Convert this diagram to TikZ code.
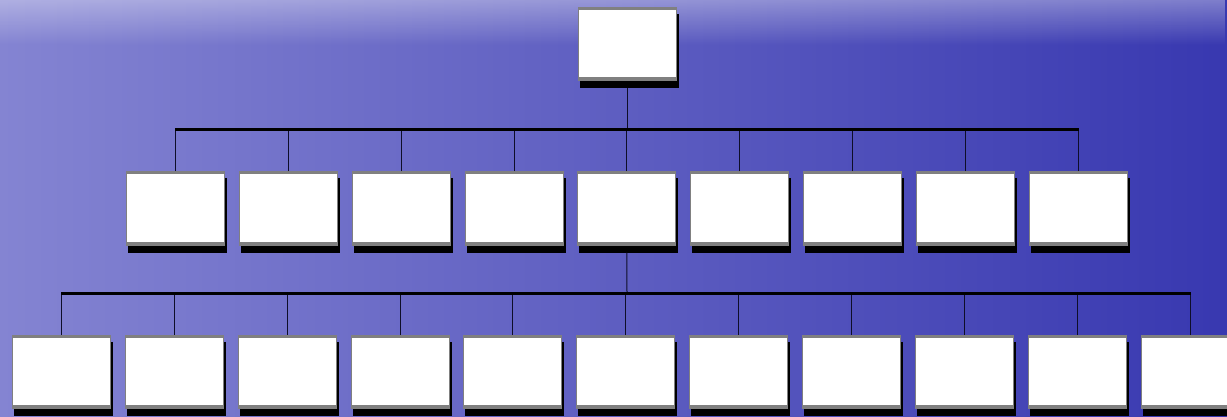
\documentclass[tikz,border=0pt]{standalone}
\usetikzlibrary{shadows,fadings}
\definecolor{seaLight}{RGB}{132,132,210}
\definecolor{seaMid}{RGB}{78,78,186}
\definecolor{seaDark}{RGB}{56,56,176}
\definecolor{rim}{RGB}{128,128,128}
\definecolor{wire}{RGB}{14,14,40}

\begin{document}
\begin{tikzpicture}[x=1pt,y=-1pt,
  unit/.style={minimum width=99pt,minimum height=74pt,inner sep=0pt,fill=rim,
    drop shadow={shadow xshift=2pt,shadow yshift=-7pt,fill=black,opacity=1},
    path picture={\fill[white]([xshift=1pt,yshift=-3pt]path picture bounding box.north west)rectangle([xshift=-1pt,yshift=4pt]path picture bounding box.south east);}},
  bar/.style={draw=black,line width=3pt},
  drop/.style={draw=wire,line width=1pt}]
\clip (0,0) rectangle (1227,417);
% background
\shade[left color=seaLight,middle color=seaMid,right color=seaDark] (0,0) rectangle (1227,417);
\fill[white,opacity=0.35,path fading=south] (0,0) rectangle (1227,45);
% boxes
\node[unit] (top) at (627,44) {};
\foreach \i in {1,...,9} \node[unit] (m\i) at ({175.5+(\i-1)*112.85},208.5) {};
\foreach \i in {1,...,11} \node[unit] (b\i) at ({61.5+(\i-1)*112.85},372) {};
% connectors
\coordinate (hubA) at (627,130);
\coordinate (hubB) at (627,293.5);
\draw[drop] ([yshift=-7pt]top.south)--(hubA);
\draw[drop] ([yshift=-7pt]m5.south)--(hubB);
\foreach \i in {1,...,9} \draw[drop] (m\i.north)--(m\i |- hubA);
\foreach \i in {1,...,11} \draw[drop] (b\i.north)--(b\i |- hubB);
\draw[bar] ([xshift=-0.5pt]m1 |- hubA)--([xshift=0.5pt]m9 |- hubA);
\draw[bar] ([xshift=-0.5pt]b1 |- hubB)--([xshift=0.5pt]b11 |- hubB);
\end{tikzpicture}
\end{document}
